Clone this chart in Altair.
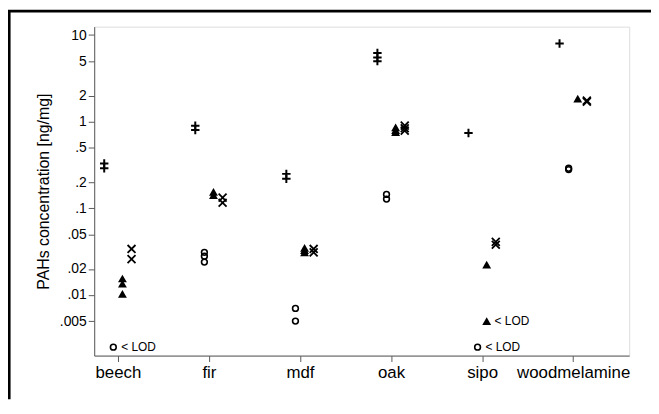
import altair as alt
import pandas as pd

# ---------------- data ----------------
categories = ["beech", "fir", "mdf", "oak", "sipo", "woodmelamine"]

plus_values = [[0.33, 0.29], [0.90, 0.80], [0.25, 0.22], [6.2, 5.5, 5.0], [0.74], [8.0]]
circle_values = [[], [0.031, 0.028, 0.024], [0.007, 0.005], [0.145, 0.128], [], [0.29, 0.28]]
triangle_values = [[0.0155, 0.0135, 0.0103], [0.155, 0.142], [0.035, 0.033, 0.031],
                   [0.86, 0.80, 0.76], [0.0224], [1.85]]
cross_values = [[0.034, 0.026], [0.133, 0.116], [0.034, 0.031], [0.90, 0.84, 0.79],
                [0.041, 0.038], [1.75, 1.70]]

# values below the limit of detection, drawn at fixed levels with a "< LOD" note
lod_circle_cats = ["beech", "sipo"]
lod_triangle_cats = ["sipo"]
lod_circle_level = 0.0025
lod_triangle_level = 0.005
lod_text = "< LOD"

y_ticks = [0.005, 0.01, 0.02, 0.05, 0.1, 0.2, 0.5, 1, 2, 5, 10]
y_tick_labels = [".005", ".01", ".02", ".05", ".1", ".2", ".5", "1", "2", "5", "10"]
y_title = "PAHs concentration [ng/mg]"

# ---------------- build tables ----------------
series_lists = {"plus": plus_values, "circle": circle_values,
                "triangle": triangle_values, "cross": cross_values}
rows = []
for s, lists in series_lists.items():
    for i, cat in enumerate(categories):
        for v in lists[i]:
            rows.append({"cat": cat, "idx": i + 1, "series": s, "value": v})
lod_rows = []
for cat in lod_circle_cats:
    lod_rows.append({"cat": cat, "idx": categories.index(cat) + 1, "series": "circle",
                     "value": lod_circle_level, "label": lod_text})
for cat in lod_triangle_cats:
    lod_rows.append({"cat": cat, "idx": categories.index(cat) + 1, "series": "triangle",
                     "value": lod_triangle_level, "label": lod_text})
rows += [{k: r[k] for k in ("cat", "idx", "series", "value")} for r in lod_rows]

df = pd.DataFrame(rows)
df_lod = pd.DataFrame(lod_rows)

# ---------------- styling ----------------
FONT = "Liberation Sans"
AXC = "#5a5a5a"
W, H = 540, 332
PAD = {"left": 87, "top": 17, "right": 22, "bottom": 44}
dodge_expr = ("datum.series == 'plus' ? -0.15 : datum.series == 'circle' ? -0.05 : "
              "datum.series == 'triangle' ? 0.05 : 0.15")

PLUS_PATH = "M-1,0L1,0M0,-1L0,1"
CROSS_PATH = "M-1,-1L1,1M1,-1L-1,1"

x_label_expr = "[" + ",".join(f"'{c}'" for c in categories) + "][datum.value - 1]"
y_label_expr = ("[" + ",".join(f"'{l}'" for l in y_tick_labels) + "][indexof(["
                + ",".join(str(v) for v in y_ticks) + "], datum.value)]")

x_enc = alt.X("xpos:Q",
              scale=alt.Scale(domain=[0.74, 6.615], nice=False, zero=False),
              axis=alt.Axis(values=list(range(1, len(categories) + 1)), labelExpr=x_label_expr,
                            title=None, grid=False, tickSize=6, tickColor=AXC, domainColor=AXC,
                            labelFont=FONT, labelFontSize=17, labelColor="black",
                            labelPadding=3, labelFlush=False, labelOverlap=False))
y_enc = alt.Y("value:Q",
              scale=alt.Scale(type="log", domain=[0.002, 12.5], nice=False),
              axis=alt.Axis(values=y_ticks, labelExpr=y_label_expr, title=y_title,
                            grid=False, tickSize=6, tickColor=AXC, domainColor=AXC,
                            labelFont=FONT, labelFontSize=14, labelColor="black",
                            labelPadding=2, labelFlush=False, labelOverlap=False,
                            titleFont=FONT, titleFontSize=16, titleFontWeight="normal",
                            titleColor="black", titleAngle=270, titleAlign="center",
                            titleBaseline="middle", titleX=-51, titleY=H / 2))

base = alt.Chart(df).transform_calculate(xpos=f"datum.idx + ({dodge_expr})")


def layer(series, **mark):
    return (base.transform_filter(alt.datum.series == series)
            .mark_point(opacity=1, **mark)
            .encode(x=x_enc, y=y_enc))


plus_l = layer("plus", shape=PLUS_PATH, size=72, filled=False, stroke="black", strokeWidth=2)
circle_l = layer("circle", shape="circle", size=34, filled=False, stroke="black", strokeWidth=1.6)
tri_l = layer("triangle", shape="triangle-up", size=80, filled=True, fill="black", strokeWidth=0)
cross_l = layer("cross", shape=CROSS_PATH, size=64, filled=False, stroke="black", strokeWidth=1.8)

lod_l = (alt.Chart(df_lod)
         .transform_calculate(xpos=f"datum.idx + ({dodge_expr})")
         .mark_text(align="left", baseline="middle", dx=8, font=FONT, fontSize=12, color="black")
         .encode(x=x_enc, y=y_enc, text="label:N"))

# outer frame (its right and bottom edges lie outside the picture, as in the reference)
frame_src = alt.Chart(pd.DataFrame({"a": [0]}))
frame_left = frame_src.mark_rule(color="black", strokeWidth=2.6).encode(
    x=alt.value(-PAD["left"] + 1.3), y=alt.value(-PAD["top"] + 1.3),
    y2=alt.value(H + PAD["bottom"]))
frame_top = frame_src.mark_rule(color="black", strokeWidth=2.6).encode(
    x=alt.value(-PAD["left"]), x2=alt.value(W + PAD["right"]),
    y=alt.value(-PAD["top"] + 1.3))

chart = (alt.layer(plus_l, circle_l, tri_l, cross_l, lod_l, frame_left, frame_top)
         .properties(width=W, height=H,
                     autosize=alt.AutoSizeParams(type="none"),
                     padding=PAD)
         .configure_view(stroke=AXC, strokeWidth=1)
         .configure(background="white"))

chart.save("out.html", embed_options={"renderer": "svg", "actions": False})
